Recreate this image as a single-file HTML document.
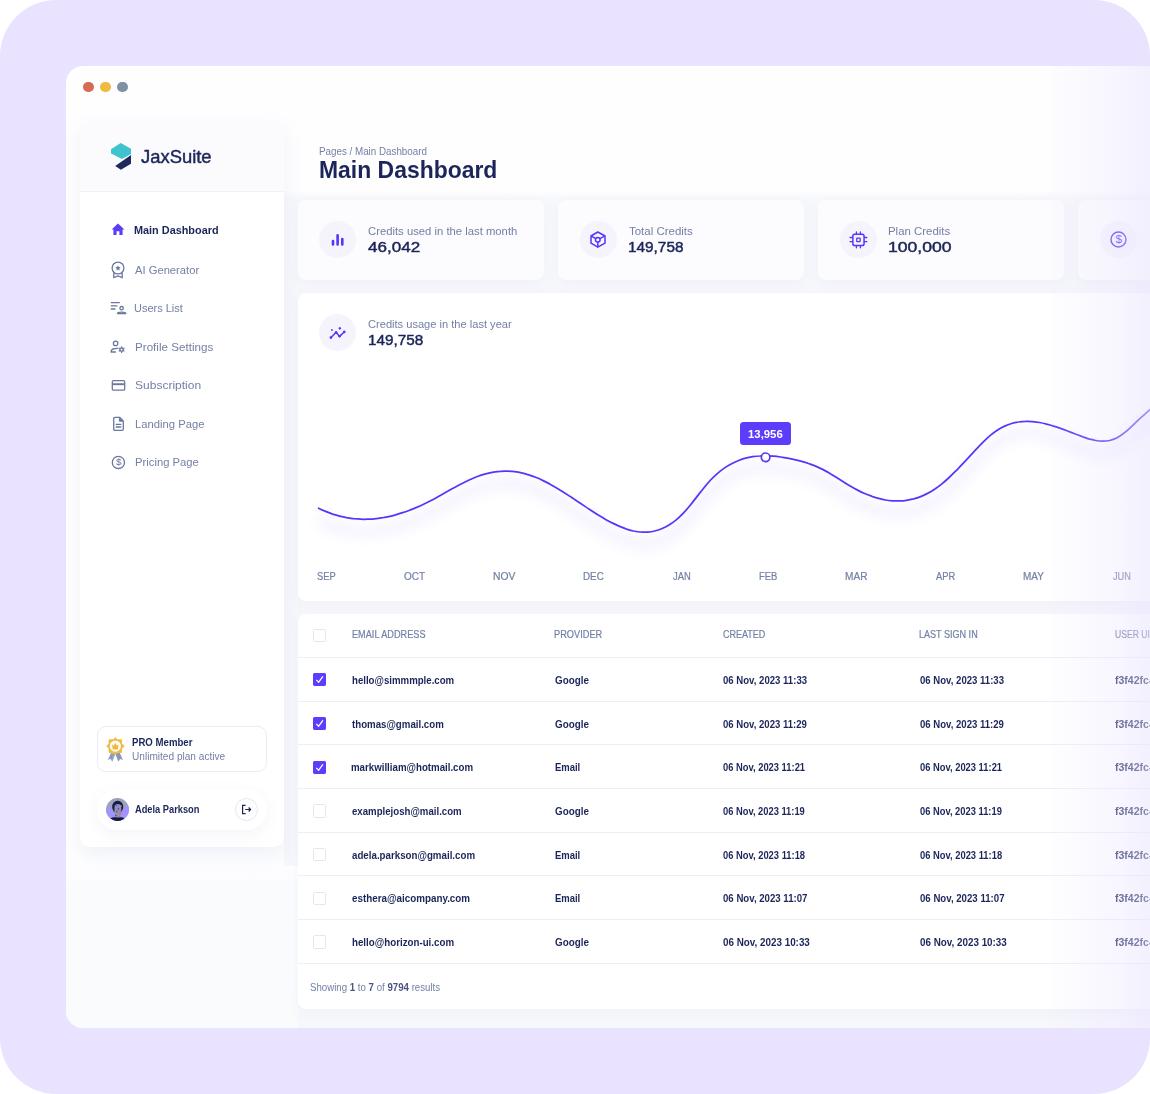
<!DOCTYPE html>
<html lang="en">
<head>
<meta charset="utf-8">
<title>JaxSuite - Main Dashboard</title>
<style>
*{box-sizing:border-box;margin:0;padding:0}
html,body{width:1150px;height:1094px;overflow:hidden;background:#fff}
body{font-family:"Liberation Sans",sans-serif;color:#1b2559;position:relative}
.abs{position:absolute}
.t{position:absolute;white-space:nowrap;line-height:1}
.b{font-weight:700}
.sb{font-weight:400;-webkit-text-stroke:.45px currentColor}
.g{color:#7480a5}
.n{color:#1b2559}
#bg{left:0;top:0;width:1150px;height:1094px;background:#e9e3ff;border-radius:56px}
#win{left:66px;top:66px;width:1100px;height:962px;background:#fefeff;border-radius:17px 0 0 17px;overflow:hidden}
#wintop{left:218px;top:124px;width:900px;height:840px;background:linear-gradient(#fefeff,#f7f8fc 9px)}
#winlow{left:0;top:800px;width:232px;height:162px;background:linear-gradient(#fefeff,#fafbfd 20px)}
.dot{position:absolute;width:10.4px;height:10.4px;border-radius:50%;top:81.7px}
#side{left:80px;top:121px;width:204px;height:726px;background:#fff;border-radius:10px;box-shadow:0 8px 20px rgba(112,126,174,.10)}
#sidehead{left:0;top:0;width:204px;height:71px;background:#fbfbfe;border-radius:10px 10px 0 0;border-bottom:1px solid #f1f2f8}
.card{position:absolute;background:#fcfcfe;border-radius:8px;box-shadow:0 4px 14px rgba(112,126,174,.055)}
.ic{position:absolute;width:37.3px;height:37.3px;border-radius:50%;background:#f5f4fd}
.row{position:absolute;left:298px;width:860px;height:1px;background:#edeff7}
.cb{position:absolute;left:313.2px;width:13.2px;height:13.2px;border:1px solid #e4e7f1;border-radius:1.5px;background:#fff}
.cb.on{background:#5d3cfd;border-color:#5d3cfd;border-radius:1.2px}
.mo{-webkit-text-stroke:.2px currentColor}
.th{-webkit-text-stroke:.2px currentColor}
.td{font-size:10.2px}
.n2{color:#4a5580;font-weight:700}
#t_h5{left:1115px;top:630px;font-size:10px;transform:scaleX(.86);transform-origin:0 50%}
#t_u0{left:1115px;top:676px;font-size:10.1px;transform:scaleX(1.04);transform-origin:0 50%}
#t_u1{left:1115px;top:720px;font-size:10.1px;transform:scaleX(1.04);transform-origin:0 50%}
#t_u2{left:1115px;top:763px;font-size:10.1px;transform:scaleX(1.04);transform-origin:0 50%}
#t_u3{left:1115px;top:807px;font-size:10.1px;transform:scaleX(1.04);transform-origin:0 50%}
#t_u4{left:1115px;top:851px;font-size:10.1px;transform:scaleX(1.04);transform-origin:0 50%}
#t_u5{left:1115px;top:894px;font-size:10.1px;transform:scaleX(1.04);transform-origin:0 50%}
#t_u6{left:1115px;top:938px;font-size:10.1px;transform:scaleX(1.04);transform-origin:0 50%}
/*TUNED*/
#t_logo{left:140.50px;top:149.00px;font-size:17.90px;transform:scaleX(1.0289);transform-origin:0 50%}
#t_n1{left:133.50px;top:225.00px;font-size:11.40px;transform:scaleX(0.9543);transform-origin:0 50%}
#t_n2{left:134.50px;top:265.00px;font-size:11.30px;transform:scaleX(0.9916);transform-origin:0 50%}
#t_n3{left:133.50px;top:303.00px;font-size:11.30px;transform:scaleX(0.9703);transform-origin:0 50%}
#t_n4{left:134.50px;top:342.00px;font-size:11.30px;transform:scaleX(1.0303);transform-origin:0 50%}
#t_n5{left:134.50px;top:380.00px;font-size:11.30px;transform:scaleX(1.0642);transform-origin:0 50%}
#t_n6{left:134.50px;top:419.00px;font-size:11.30px;transform:scaleX(0.9961);transform-origin:0 50%}
#t_n7{left:134.50px;top:457.00px;font-size:11.30px;transform:scaleX(0.9968);transform-origin:0 50%}
#t_pro{left:131.50px;top:738.00px;font-size:10.10px;transform:scaleX(0.9535);transform-origin:0 50%}
#t_unl{left:131.50px;top:752.00px;font-size:10.10px;transform:scaleX(1.0005);transform-origin:0 50%}
#t_user{left:134.50px;top:805.00px;font-size:10.30px;transform:scaleX(0.9009);transform-origin:0 50%}
#t_bc{left:318.50px;top:147.00px;font-size:10.30px;transform:scaleX(0.9522);transform-origin:0 50%}
#t_title{left:318.50px;top:158.00px;font-size:24.00px;transform:scaleX(0.9553);transform-origin:0 50%}
#t_l1{left:367.50px;top:226.00px;font-size:10.90px;transform:scaleX(1.0362);transform-origin:0 50%}
#t_v1{left:367.50px;top:240.00px;font-size:14.50px;transform:scaleX(1.1756);transform-origin:0 50%}
#t_l2{left:628.50px;top:226.00px;font-size:10.90px;transform:scaleX(1.0540);transform-origin:0 50%}
#t_v2{left:627.50px;top:240.00px;font-size:14.50px;transform:scaleX(1.0582);transform-origin:0 50%}
#t_l3{left:887.50px;top:226.00px;font-size:10.90px;transform:scaleX(1.0483);transform-origin:0 50%}
#t_v3{left:887.50px;top:240.00px;font-size:14.50px;transform:scaleX(1.2140);transform-origin:0 50%}
#t_l4{left:367.50px;top:319.00px;font-size:10.90px;transform:scaleX(1.0187);transform-origin:0 50%}
#t_v4{left:367.50px;top:333.00px;font-size:14.50px;transform:scaleX(1.0521);transform-origin:0 50%}
#t_tip{left:747.50px;top:429.00px;font-size:11.00px;transform:scaleX(1.0332);transform-origin:0 50%}
#t_m1{left:316.50px;top:572.00px;font-size:10.00px;transform:scaleX(0.9322);transform-origin:0 50%}
#t_m2{left:403.50px;top:572.00px;font-size:10.00px;transform:scaleX(0.9966);transform-origin:0 50%}
#t_m3{left:492.50px;top:572.00px;font-size:10.00px;transform:scaleX(1.0322);transform-origin:0 50%}
#t_m4{left:583.00px;top:572.00px;font-size:10.00px;transform:scaleX(0.9813);transform-origin:0 50%}
#t_m5{left:672.50px;top:572.00px;font-size:10.00px;transform:scaleX(0.9376);transform-origin:0 50%}
#t_m6{left:758.50px;top:572.00px;font-size:10.00px;transform:scaleX(0.9452);transform-origin:0 50%}
#t_m7{left:844.50px;top:572.00px;font-size:10.00px;transform:scaleX(1.0100);transform-origin:0 50%}
#t_m8{left:935.50px;top:572.00px;font-size:10.00px;transform:scaleX(0.9349);transform-origin:0 50%}
#t_m9{left:1022.50px;top:572.00px;font-size:10.00px;transform:scaleX(0.9974);transform-origin:0 50%}
#t_m10{left:1112.50px;top:572.00px;font-size:10.00px;transform:scaleX(0.9200);transform-origin:0 50%}
#t_h1{left:351.50px;top:630.00px;font-size:10.00px;transform:scaleX(0.9162);transform-origin:0 50%}
#t_h2{left:554.00px;top:630.00px;font-size:10.00px;transform:scaleX(0.9237);transform-origin:0 50%}
#t_h3{left:722.50px;top:630.00px;font-size:10.00px;transform:scaleX(0.9008);transform-origin:0 50%}
#t_h4{left:918.50px;top:630.00px;font-size:10.00px;transform:scaleX(0.9049);transform-origin:0 50%}
#t_show{left:309.50px;top:983.00px;font-size:10.00px;transform:scaleX(0.9670);transform-origin:0 50%}
#t_e0{left:351.50px;top:676.00px;font-size:10.10px;transform:scaleX(0.9559);transform-origin:0 50%}
#t_p0{left:554.50px;top:676.00px;font-size:10.10px;transform:scaleX(0.9776);transform-origin:0 50%}
#t_c0{left:722.50px;top:676.00px;font-size:10.10px;transform:scaleX(0.9502);transform-origin:0 50%}
#t_s0{left:919.50px;top:676.00px;font-size:10.10px;transform:scaleX(0.9498);transform-origin:0 50%}
#t_e1{left:351.50px;top:720.00px;font-size:10.10px;transform:scaleX(0.9591);transform-origin:0 50%}
#t_p1{left:554.50px;top:720.00px;font-size:10.10px;transform:scaleX(0.9776);transform-origin:0 50%}
#t_c1{left:722.50px;top:720.00px;font-size:10.10px;transform:scaleX(0.9488);transform-origin:0 50%}
#t_s1{left:919.50px;top:720.00px;font-size:10.10px;transform:scaleX(0.9487);transform-origin:0 50%}
#t_e2{left:350.50px;top:763.00px;font-size:10.10px;transform:scaleX(0.9605);transform-origin:0 50%}
#t_p2{left:554.50px;top:763.00px;font-size:10.10px;transform:scaleX(0.9363);transform-origin:0 50%}
#t_c2{left:722.50px;top:763.00px;font-size:10.10px;transform:scaleX(0.9272);transform-origin:0 50%}
#t_s2{left:919.50px;top:763.00px;font-size:10.10px;transform:scaleX(0.9272);transform-origin:0 50%}
#t_e3{left:351.50px;top:807.00px;font-size:10.10px;transform:scaleX(0.9555);transform-origin:0 50%}
#t_p3{left:554.50px;top:807.00px;font-size:10.10px;transform:scaleX(0.9776);transform-origin:0 50%}
#t_c3{left:722.50px;top:807.00px;font-size:10.10px;transform:scaleX(0.9244);transform-origin:0 50%}
#t_s3{left:919.50px;top:807.00px;font-size:10.10px;transform:scaleX(0.9248);transform-origin:0 50%}
#t_e4{left:351.50px;top:851.00px;font-size:10.10px;transform:scaleX(0.9639);transform-origin:0 50%}
#t_p4{left:554.50px;top:851.00px;font-size:10.10px;transform:scaleX(0.9363);transform-origin:0 50%}
#t_c4{left:722.50px;top:851.00px;font-size:10.10px;transform:scaleX(0.9275);transform-origin:0 50%}
#t_s4{left:919.50px;top:851.00px;font-size:10.10px;transform:scaleX(0.9282);transform-origin:0 50%}
#t_e5{left:351.50px;top:894.00px;font-size:10.10px;transform:scaleX(0.9734);transform-origin:0 50%}
#t_p5{left:554.50px;top:894.00px;font-size:10.10px;transform:scaleX(0.9363);transform-origin:0 50%}
#t_c5{left:722.50px;top:894.00px;font-size:10.10px;transform:scaleX(0.9547);transform-origin:0 50%}
#t_s5{left:919.50px;top:894.00px;font-size:10.10px;transform:scaleX(0.9551);transform-origin:0 50%}
#t_e6{left:351.50px;top:938.00px;font-size:10.10px;transform:scaleX(0.9652);transform-origin:0 50%}
#t_p6{left:554.50px;top:938.00px;font-size:10.10px;transform:scaleX(0.9776);transform-origin:0 50%}
#t_c6{left:722.50px;top:938.00px;font-size:10.10px;transform:scaleX(0.9753);transform-origin:0 50%}
#t_s6{left:919.50px;top:938.00px;font-size:10.10px;transform:scaleX(0.9750);transform-origin:0 50%}
/*ENDTUNED*/
</style>
</head>
<body>
<div id="bg" class="abs"></div>
<div id="win" class="abs"><div id="wintop" class="abs"></div><div id="winlow" class="abs"></div></div>
<div class="dot" style="left:83.2px;background:#d96a52"></div>
<div class="dot" style="left:100.3px;background:#f0b940"></div>
<div class="dot" style="left:117.4px;background:#8190a6"></div>

<!-- SIDEBAR -->
<div id="side" class="abs"><div id="sidehead" class="abs"></div></div>
<!-- logo -->
<svg class="abs" style="left:110px;top:142px" width="22" height="29" viewBox="0 0 22 29">
<path d="M10.7 1 L21 6.8 V11.9 L11.9 16.9 L1 11.4 V7.3 Z" fill="#3ec3cf"/>
<path d="M21 12.9 V21.7 L10.9 27.8 L5.2 23.9 Z" fill="#1f2a5c"/>
</svg>
<div id="t_logo" class="t sb n">JaxSuite</div>

<!-- nav -->
<svg class="abs" style="left:111px;top:223px" width="14" height="13" viewBox="0 0 14 13"><path d="M7 0.6 L0.6 6.4 H2.4 V12 H5.6 V8.2 H8.4 V12 H11.6 V6.4 H13.4 Z" fill="#5b3ef5"/></svg>
<div id="t_n1" class="t b n">Main Dashboard</div>

<svg class="abs" style="left:110px;top:260px" width="16" height="20" viewBox="0 0 16 20" fill="none" stroke="#6b789e" stroke-width="1.3"><circle cx="8" cy="8" r="5.9"/><path d="M3.8 12.6 V17.6 L8 15.9 L12.2 17.6 V12.6"/><path d="M8 5.2 L8.8 7 L10.7 7.2 L9.3 8.5 L9.7 10.4 L8 9.4 L6.3 10.4 L6.7 8.5 L5.3 7.2 L7.2 7 Z" fill="#6b789e" stroke="none"/></svg>
<div id="t_n2" class="t g">AI Generator</div>

<svg class="abs" style="left:110px;top:300px" width="17" height="16" viewBox="0 0 17 16" fill="none" stroke="#6b789e" stroke-width="1.3"><path d="M0.8 2.6 H9.8 M0.8 5.8 H7.4 M0.8 9 H5.4"/><circle cx="11.6" cy="8.2" r="1.7"/><path d="M7.4 13.6 C7.4 11.6 15.8 11.6 15.8 13.6 Z" stroke-linejoin="round"/></svg>
<div id="t_n3" class="t g">Users List</div>

<svg class="abs" style="left:110px;top:340px" width="17" height="14" viewBox="0 0 17 14" fill="none" stroke="#6b789e" stroke-width="1.3"><circle cx="5.6" cy="3.4" r="2.2"/><path d="M1 12 C1 8.6 4 8.4 7.6 8.4 M1 12 H5.4" stroke-linecap="round"/><circle cx="11.6" cy="9.6" r="1.7"/><path d="M11.6 6.8 V7.9 M11.6 11.3 V12.4 M9.2 8.2 L10.1 8.75 M13.1 10.45 L14 11 M9.2 11 L10.1 10.45 M13.1 8.75 L14 8.2" stroke-linecap="round"/></svg>
<div id="t_n4" class="t g">Profile Settings</div>

<svg class="abs" style="left:111px;top:379px" width="15" height="13" viewBox="0 0 15 13" fill="none" stroke="#6b789e" stroke-width="1.3"><rect x="1.3" y="1.6" width="12.4" height="9.6" rx="1.3"/><path d="M1.3 5.2 H13.7" stroke-width="1.9"/></svg>
<div id="t_n5" class="t g">Subscription</div>

<svg class="abs" style="left:112px;top:416px" width="13" height="16" viewBox="0 0 13 16" fill="none" stroke="#6b789e" stroke-width="1.3"><path d="M1.7 2.6 Q1.7 1.3 3 1.3 H7.6 L11.3 5 V13 Q11.3 14.3 10 14.3 H3 Q1.7 14.3 1.7 13 Z" stroke-linejoin="round"/><path d="M7.4 1.6 V5.2 H11" fill="#6b789e" stroke-width="1"/><path d="M4.2 8.4 H8.8 M4.2 11 H8.8" stroke-linecap="round"/></svg>
<div id="t_n6" class="t g">Landing Page</div>

<svg class="abs" style="left:111px;top:455px" width="15" height="15" viewBox="0 0 15 15" fill="none" stroke="#6b789e" stroke-width="1.3"><circle cx="7.4" cy="7.4" r="6.1"/></svg>
<div class="t g" style="left:115.9px;top:457.3px;font-size:9.6px;color:#6b789e;font-weight:400">$</div>
<div id="t_n7" class="t g">Pricing Page</div>

<!-- pro card -->
<div class="abs" style="left:97px;top:726px;width:170px;height:46px;border:1px solid #e9ecf6;border-radius:9px;background:#fff"></div>
<svg class="abs" style="left:106.4px;top:736.8px" width="19.4" height="26.2" viewBox="0 0 20 27">
<path d="M5.4 15.6 L1.8 23.6 L4.7 22.7 L6.5 25.4 L9.7 17.6 Z" fill="#98a2be"/><path d="M14 15.6 L17.4 23.6 L14.6 22.7 L12.7 25.4 L9.7 17.6 Z" fill="#8d98b6"/>
<circle cx="5.4" cy="20.6" r=".9" fill="#8f7df0"/><circle cx="13.6" cy="20.8" r=".9" fill="#8f7df0"/><circle cx="6.2" cy="22.2" r=".6" fill="#35c6c6"/><circle cx="13" cy="22.6" r=".6" fill="#35c6c6"/>
<path d="M9.7 .8 L12 2.9 H16.1 V7 L18.9 9.4 L16.1 11.9 V16 H12 L9.7 18.1 L7.2 16 H3.1 V11.9 L.8 9.4 L3.1 7 V2.9 H7.2 Z" fill="#eeb93f" stroke="#eeb93f" stroke-width=".8" stroke-linejoin="round"/>
<circle cx="9.6" cy="9.4" r="5.8" fill="#fffdf7"/>
<path d="M6.3 7.5 L8 8.9 L9.6 5.9 L11.2 8.9 L12.9 7.5 L12.3 12.9 H6.9 Z" fill="#eeb93f"/>
</svg>
<div id="t_pro" class="t b n">PRO Member</div>
<div id="t_unl" class="t g">Unlimited plan active</div>

<!-- user pill -->
<div class="abs" style="left:97px;top:789px;width:170px;height:41px;border-radius:21px;background:#fff;box-shadow:0 5px 16px rgba(112,126,174,.08)"></div>
<svg class="abs" style="left:106px;top:798px" width="23" height="23" viewBox="0 0 23 23">
<defs><clipPath id="av"><circle cx="11.5" cy="11.5" r="11.45"/></clipPath></defs>
<g clip-path="url(#av)"><rect width="23" height="23" fill="#9ca2ba"/>
<path d="M0 9.6 L5 8.8 L9.4 19.6 L0 23 Z" fill="#a394fb"/><path d="M16.2 11 L23 6.6 V23 H13.6 Z" fill="#a291ff"/>
<ellipse cx="11.7" cy="9" rx="5.5" ry="6.2" fill="#141a4a"/>
<path d="M8.6 8.2 C8.8 5.6 14.8 5.2 15.2 8.4 L15.4 13 C15.2 17 13.8 19.6 12.2 19.6 C10.2 19.6 8.6 16.6 8.4 13 Z" fill="#8f95af"/>
<path d="M4.2 21 C6.4 18.9 9 19.2 11.6 19.6 C14.4 19.2 16.6 18.9 18.8 21 L18 23 H5 Z" fill="#151b4b"/>
<circle cx="10.4" cy="7.4" r=".7" fill="#5a3cff"/><ellipse cx="12.4" cy="10.8" rx=".7" ry="1.1" fill="#5a3cff"/><circle cx="10.8" cy="13.6" r="1" fill="#6a4cff"/><circle cx="9.8" cy="17.6" r=".9" fill="#5a3cff"/>
<ellipse cx="15.3" cy="8" rx=".55" ry="1.1" fill="#e4633f"/><ellipse cx="14.4" cy="12.9" rx=".55" ry="1" fill="#e4633f"/><ellipse cx="14.1" cy="15.7" rx=".7" ry=".9" fill="#e4633f"/><ellipse cx="13.6" cy="18.4" rx=".5" ry="1" fill="#e4633f"/>
</g></svg>
<div id="t_user" class="t b n">Adela Parkson</div>
<div class="abs" style="left:235px;top:798px;width:23px;height:23px;border-radius:50%;border:1px solid #e3e7f3;background:#fff"></div>
<svg class="abs" style="left:241px;top:804px" width="11" height="11" viewBox="0 0 11 11" fill="none" stroke="#1b2559" stroke-width="1.2"><path d="M4.6 1.4 H1.6 V9.6 H4.6"/><path d="M4.2 5.5 H9.6 M7.6 3.5 L9.6 5.5 L7.6 7.5" stroke-linejoin="round"/></svg>

<!-- MAIN -->

<div id="t_bc" class="t g">Pages / Main Dashboard</div>
<div id="t_title" class="t b n">Main Dashboard</div>

<!-- stat cards -->
<div class="card" style="left:298px;top:200px;width:246px;height:80px"></div>
<div class="card" style="left:558px;top:200px;width:246px;height:80px"></div>
<div class="card" style="left:818px;top:200px;width:246px;height:80px"></div>
<div class="card" style="left:1078px;top:200px;width:246px;height:80px"></div>
<div class="ic" style="left:318.9px;top:220.8px"></div>
<div class="ic" style="left:579.6px;top:220.8px"></div>
<div class="ic" style="left:839.8px;top:220.8px"></div>
<div class="ic" style="left:1100.1px;top:220.8px"></div>
<svg class="abs" style="left:331px;top:233px" width="14" height="14" viewBox="0 0 14 14" fill="none" stroke="#5634fb" stroke-width="2.6" stroke-linecap="round"><path d="M2 8 V11.5 M6.6 2.3 V11.5 M11.3 6 V11.5"/></svg>
<svg class="abs" style="left:589px;top:230px" width="19" height="20" viewBox="0 0 19 20" fill="none" stroke="#5634fb" stroke-width="1.5" stroke-linejoin="round"><path d="M8.8 2 L16 6 V13.2 L8.8 17.2 L2 13.2 V6 Z"/><circle cx="8.8" cy="9.7" r="2.3"/><path d="M8.8 12 V17 M6.8 8.6 L2.4 6.2 M10.8 8.6 L15.6 6.2"/></svg>
<svg class="abs" style="left:849px;top:230px" width="19" height="20" viewBox="0 0 19 20" fill="none" stroke="#5634fb" stroke-width="1.5"><rect x="3.85" y="4.25" width="11.2" height="11.3" rx="1.8"/><rect x="7.75" y="8.2" width="3.4" height="3.4" rx=".4" stroke-width="1.3"/><path d="M7.4 2 V3.6 M11.4 2 V3.6 M7.4 16.2 V17.8 M11.4 16.2 V17.8 M1.1 7.5 H3.2 M1.1 11.7 H3.2 M15.7 7.5 H17.8 M15.7 11.7 H17.8" stroke-linecap="round" stroke-width="1.3"/></svg>
<svg class="abs" style="left:1109.3px;top:230.3px" width="19" height="19" viewBox="0 0 19 19" fill="none" stroke="#5634fb" stroke-width="1.4"><circle cx="9.5" cy="9.5" r="7.5"/></svg>
<div class="t" style="left:1115.5px;top:233.8px;font-size:11.8px;color:#5634fb;font-weight:400">$</div>

<div id="t_l1" class="t g">Credits used in the last month</div>
<div id="t_v1" class="t sb n">46,042</div>
<div id="t_l2" class="t g">Total Credits</div>
<div id="t_v2" class="t sb n">149,758</div>
<div id="t_l3" class="t g">Plan Credits</div>
<div id="t_v3" class="t sb n">100,000</div>

<!-- chart card -->
<div class="card" style="left:298px;top:292.5px;width:900px;height:308.5px;background:#fff"></div>
<div class="ic" style="left:319px;top:313.9px"></div>
<svg class="abs" style="left:329px;top:324px" width="18" height="17" viewBox="0 0 18 17" fill="none" stroke="#5634fb" stroke-width="1.5" stroke-linecap="round" stroke-linejoin="round"><path d="M1.8 13.7 L7.1 8.2 L10.6 12.4 L15.4 7.8"/><g fill="#5634fb" stroke="none"><circle cx="1.9" cy="13.6" r="1.3"/><circle cx="7.1" cy="8.3" r="1.2"/><circle cx="10.6" cy="12.3" r="1.2"/><circle cx="15.3" cy="7.9" r="1.3"/><path d="M10.8 2.7 L12.3 4.3 L10.8 5.9 L9.3 4.3 Z"/><circle cx="2.9" cy="6" r=".9"/></g></svg>
<div id="t_l4" class="t g">Credits usage in the last year</div>
<div id="t_v4" class="t sb n">149,758</div>

<svg class="abs" style="left:0;top:0" width="1150" height="1094" viewBox="0 0 1150 1094">
<defs><filter id="sh" x="-5%" y="-50%" width="110%" height="250%"><feGaussianBlur stdDeviation="7"/></filter></defs>
<path d="M318.6 508.2 C319.8 508.8 323.3 510.4 325.6 511.4 C327.9 512.4 330.3 513.3 332.6 514.1 C334.9 514.8 337.3 515.5 339.6 516.1 C341.9 516.7 344.3 517.2 346.6 517.7 C348.9 518.1 351.3 518.4 353.6 518.7 C355.9 518.9 358.3 519.1 360.6 519.2 C362.9 519.3 365.3 519.3 367.6 519.2 C369.9 519.1 372.3 519.0 374.6 518.8 C376.9 518.6 379.3 518.3 381.6 517.9 C383.9 517.5 386.3 517.1 388.6 516.6 C390.9 516.1 393.3 515.5 395.6 514.8 C397.9 514.2 400.3 513.5 402.6 512.7 C404.9 512.0 407.3 511.1 409.6 510.2 C411.9 509.3 414.3 508.4 416.6 507.4 C418.9 506.4 421.3 505.3 423.6 504.2 C425.9 503.1 428.3 501.9 430.6 500.7 C432.9 499.5 435.3 498.2 437.6 496.9 C439.9 495.6 442.3 494.3 444.6 493.0 C446.9 491.7 449.3 490.4 451.6 489.1 C453.9 487.8 456.3 486.5 458.6 485.3 C460.9 484.1 463.3 482.9 465.6 481.7 C467.9 480.6 470.3 479.5 472.6 478.5 C474.9 477.5 477.3 476.6 479.6 475.7 C481.9 474.9 484.3 474.2 486.6 473.6 C488.9 473.0 491.3 472.5 493.6 472.1 C495.9 471.7 498.3 471.4 500.6 471.3 C502.9 471.1 505.3 471.1 507.6 471.2 C509.9 471.3 512.3 471.4 514.6 471.7 C516.9 472.0 519.3 472.4 521.6 472.9 C523.9 473.5 526.3 474.1 528.6 474.8 C530.9 475.5 533.3 476.3 535.6 477.3 C537.9 478.2 540.3 479.2 542.6 480.4 C544.9 481.5 547.3 482.7 549.6 483.9 C551.9 485.2 554.3 486.6 556.6 487.9 C558.9 489.3 561.3 490.8 563.6 492.3 C565.9 493.7 568.3 495.3 570.6 496.8 C572.9 498.3 575.3 499.9 577.6 501.5 C579.9 503.0 582.3 504.6 584.6 506.1 C586.9 507.7 589.3 509.2 591.6 510.7 C593.9 512.3 596.3 513.8 598.6 515.2 C600.9 516.6 603.3 518.0 605.6 519.4 C607.9 520.7 610.3 522.0 612.6 523.1 C614.9 524.3 617.3 525.4 619.6 526.4 C621.9 527.4 624.3 528.3 626.6 529.1 C628.9 529.8 631.3 530.5 633.6 531.0 C635.9 531.4 638.3 531.8 640.6 532.0 C642.9 532.2 645.3 532.2 647.6 532.1 C649.9 531.9 652.3 531.6 654.6 531.0 C656.9 530.5 659.3 529.8 661.6 528.8 C663.9 527.8 666.3 526.7 668.6 525.3 C670.9 523.9 673.3 522.2 675.6 520.4 C677.9 518.5 680.3 516.3 682.6 513.9 C684.9 511.6 687.3 508.8 689.6 506.0 C691.9 503.2 694.3 500.1 696.6 497.1 C698.9 494.2 701.3 491.0 703.6 488.2 C705.9 485.3 708.3 482.5 710.6 480.0 C712.9 477.5 715.3 475.3 717.6 473.3 C719.9 471.2 722.3 469.5 724.6 467.9 C726.9 466.3 729.3 464.9 731.6 463.7 C733.9 462.4 736.3 461.4 738.6 460.5 C740.9 459.6 743.3 458.8 745.6 458.2 C747.9 457.6 750.3 457.1 752.6 456.7 C754.9 456.4 757.3 456.1 759.6 456.0 C761.9 455.8 764.3 455.8 766.6 455.8 C768.9 455.8 771.3 456.0 773.6 456.2 C775.9 456.4 778.3 456.7 780.6 457.0 C782.9 457.4 785.3 457.8 787.6 458.2 C789.9 458.7 792.3 459.2 794.6 459.7 C796.9 460.2 799.3 460.8 801.6 461.4 C803.9 462.0 806.3 462.7 808.6 463.5 C810.9 464.3 813.3 465.1 815.6 466.1 C817.9 467.1 820.3 468.2 822.6 469.4 C824.9 470.6 827.3 471.9 829.6 473.3 C831.9 474.7 834.3 476.1 836.6 477.6 C838.9 479.1 841.3 480.6 843.6 482.0 C845.9 483.5 848.3 485.0 850.6 486.3 C852.9 487.7 855.3 489.0 857.6 490.1 C859.9 491.3 862.3 492.5 864.6 493.5 C866.9 494.5 869.3 495.4 871.6 496.2 C873.9 497.1 876.3 497.8 878.6 498.4 C880.9 499.0 883.3 499.6 885.6 500.0 C887.9 500.4 890.3 500.6 892.6 500.8 C894.9 501.0 897.3 501.0 899.6 500.9 C901.9 500.9 904.3 500.7 906.6 500.3 C908.9 500.0 911.3 499.5 913.6 498.9 C915.9 498.2 918.3 497.5 920.6 496.6 C922.9 495.7 925.3 494.6 927.6 493.4 C929.9 492.2 932.3 490.8 934.6 489.2 C936.9 487.7 939.3 486.0 941.6 484.1 C943.9 482.2 946.3 480.1 948.6 478.0 C950.9 475.8 953.3 473.5 955.6 471.2 C957.9 468.8 960.3 466.4 962.6 463.9 C964.9 461.4 967.3 458.9 969.6 456.3 C971.9 453.8 974.3 451.3 976.6 448.8 C978.9 446.3 981.3 443.9 983.6 441.6 C985.9 439.4 988.3 437.2 990.6 435.2 C992.9 433.3 995.3 431.5 997.6 430.0 C999.9 428.5 1002.3 427.2 1004.6 426.1 C1006.9 425.1 1009.3 424.2 1011.6 423.5 C1013.9 422.8 1016.3 422.3 1018.6 422.0 C1020.9 421.6 1023.3 421.4 1025.6 421.4 C1027.9 421.3 1030.3 421.4 1032.6 421.6 C1034.9 421.8 1037.3 422.1 1039.6 422.5 C1041.9 422.9 1044.3 423.5 1046.6 424.1 C1048.9 424.6 1051.3 425.3 1053.6 426.1 C1055.9 426.8 1058.3 427.6 1060.6 428.4 C1062.9 429.2 1065.3 430.1 1067.6 431.0 C1069.9 431.9 1072.3 432.8 1074.6 433.7 C1076.9 434.6 1079.3 435.5 1081.6 436.4 C1083.9 437.2 1086.3 438.1 1088.6 438.8 C1090.9 439.4 1093.3 440.1 1095.6 440.5 C1097.9 440.9 1100.3 441.2 1102.6 441.2 C1104.9 441.2 1107.3 441.0 1109.6 440.5 C1111.9 439.9 1114.3 439.1 1116.6 438.0 C1118.9 436.8 1121.3 435.2 1123.6 433.4 C1125.9 431.7 1128.3 429.5 1130.6 427.4 C1132.9 425.2 1135.3 422.9 1137.6 420.7 C1139.9 418.5 1142.3 416.3 1144.6 414.3 C1146.9 412.2 1149.3 410.3 1151.6 408.3 C1153.9 406.4 1157.4 403.7 1158.6 402.8" transform="translate(0,12)" fill="none" stroke="#6a4cff" stroke-width="9" opacity=".085" filter="url(#sh)"/>
<path d="M318.6 508.2 C319.8 508.8 323.3 510.4 325.6 511.4 C327.9 512.4 330.3 513.3 332.6 514.1 C334.9 514.8 337.3 515.5 339.6 516.1 C341.9 516.7 344.3 517.2 346.6 517.7 C348.9 518.1 351.3 518.4 353.6 518.7 C355.9 518.9 358.3 519.1 360.6 519.2 C362.9 519.3 365.3 519.3 367.6 519.2 C369.9 519.1 372.3 519.0 374.6 518.8 C376.9 518.6 379.3 518.3 381.6 517.9 C383.9 517.5 386.3 517.1 388.6 516.6 C390.9 516.1 393.3 515.5 395.6 514.8 C397.9 514.2 400.3 513.5 402.6 512.7 C404.9 512.0 407.3 511.1 409.6 510.2 C411.9 509.3 414.3 508.4 416.6 507.4 C418.9 506.4 421.3 505.3 423.6 504.2 C425.9 503.1 428.3 501.9 430.6 500.7 C432.9 499.5 435.3 498.2 437.6 496.9 C439.9 495.6 442.3 494.3 444.6 493.0 C446.9 491.7 449.3 490.4 451.6 489.1 C453.9 487.8 456.3 486.5 458.6 485.3 C460.9 484.1 463.3 482.9 465.6 481.7 C467.9 480.6 470.3 479.5 472.6 478.5 C474.9 477.5 477.3 476.6 479.6 475.7 C481.9 474.9 484.3 474.2 486.6 473.6 C488.9 473.0 491.3 472.5 493.6 472.1 C495.9 471.7 498.3 471.4 500.6 471.3 C502.9 471.1 505.3 471.1 507.6 471.2 C509.9 471.3 512.3 471.4 514.6 471.7 C516.9 472.0 519.3 472.4 521.6 472.9 C523.9 473.5 526.3 474.1 528.6 474.8 C530.9 475.5 533.3 476.3 535.6 477.3 C537.9 478.2 540.3 479.2 542.6 480.4 C544.9 481.5 547.3 482.7 549.6 483.9 C551.9 485.2 554.3 486.6 556.6 487.9 C558.9 489.3 561.3 490.8 563.6 492.3 C565.9 493.7 568.3 495.3 570.6 496.8 C572.9 498.3 575.3 499.9 577.6 501.5 C579.9 503.0 582.3 504.6 584.6 506.1 C586.9 507.7 589.3 509.2 591.6 510.7 C593.9 512.3 596.3 513.8 598.6 515.2 C600.9 516.6 603.3 518.0 605.6 519.4 C607.9 520.7 610.3 522.0 612.6 523.1 C614.9 524.3 617.3 525.4 619.6 526.4 C621.9 527.4 624.3 528.3 626.6 529.1 C628.9 529.8 631.3 530.5 633.6 531.0 C635.9 531.4 638.3 531.8 640.6 532.0 C642.9 532.2 645.3 532.2 647.6 532.1 C649.9 531.9 652.3 531.6 654.6 531.0 C656.9 530.5 659.3 529.8 661.6 528.8 C663.9 527.8 666.3 526.7 668.6 525.3 C670.9 523.9 673.3 522.2 675.6 520.4 C677.9 518.5 680.3 516.3 682.6 513.9 C684.9 511.6 687.3 508.8 689.6 506.0 C691.9 503.2 694.3 500.1 696.6 497.1 C698.9 494.2 701.3 491.0 703.6 488.2 C705.9 485.3 708.3 482.5 710.6 480.0 C712.9 477.5 715.3 475.3 717.6 473.3 C719.9 471.2 722.3 469.5 724.6 467.9 C726.9 466.3 729.3 464.9 731.6 463.7 C733.9 462.4 736.3 461.4 738.6 460.5 C740.9 459.6 743.3 458.8 745.6 458.2 C747.9 457.6 750.3 457.1 752.6 456.7 C754.9 456.4 757.3 456.1 759.6 456.0 C761.9 455.8 764.3 455.8 766.6 455.8 C768.9 455.8 771.3 456.0 773.6 456.2 C775.9 456.4 778.3 456.7 780.6 457.0 C782.9 457.4 785.3 457.8 787.6 458.2 C789.9 458.7 792.3 459.2 794.6 459.7 C796.9 460.2 799.3 460.8 801.6 461.4 C803.9 462.0 806.3 462.7 808.6 463.5 C810.9 464.3 813.3 465.1 815.6 466.1 C817.9 467.1 820.3 468.2 822.6 469.4 C824.9 470.6 827.3 471.9 829.6 473.3 C831.9 474.7 834.3 476.1 836.6 477.6 C838.9 479.1 841.3 480.6 843.6 482.0 C845.9 483.5 848.3 485.0 850.6 486.3 C852.9 487.7 855.3 489.0 857.6 490.1 C859.9 491.3 862.3 492.5 864.6 493.5 C866.9 494.5 869.3 495.4 871.6 496.2 C873.9 497.1 876.3 497.8 878.6 498.4 C880.9 499.0 883.3 499.6 885.6 500.0 C887.9 500.4 890.3 500.6 892.6 500.8 C894.9 501.0 897.3 501.0 899.6 500.9 C901.9 500.9 904.3 500.7 906.6 500.3 C908.9 500.0 911.3 499.5 913.6 498.9 C915.9 498.2 918.3 497.5 920.6 496.6 C922.9 495.7 925.3 494.6 927.6 493.4 C929.9 492.2 932.3 490.8 934.6 489.2 C936.9 487.7 939.3 486.0 941.6 484.1 C943.9 482.2 946.3 480.1 948.6 478.0 C950.9 475.8 953.3 473.5 955.6 471.2 C957.9 468.8 960.3 466.4 962.6 463.9 C964.9 461.4 967.3 458.9 969.6 456.3 C971.9 453.8 974.3 451.3 976.6 448.8 C978.9 446.3 981.3 443.9 983.6 441.6 C985.9 439.4 988.3 437.2 990.6 435.2 C992.9 433.3 995.3 431.5 997.6 430.0 C999.9 428.5 1002.3 427.2 1004.6 426.1 C1006.9 425.1 1009.3 424.2 1011.6 423.5 C1013.9 422.8 1016.3 422.3 1018.6 422.0 C1020.9 421.6 1023.3 421.4 1025.6 421.4 C1027.9 421.3 1030.3 421.4 1032.6 421.6 C1034.9 421.8 1037.3 422.1 1039.6 422.5 C1041.9 422.9 1044.3 423.5 1046.6 424.1 C1048.9 424.6 1051.3 425.3 1053.6 426.1 C1055.9 426.8 1058.3 427.6 1060.6 428.4 C1062.9 429.2 1065.3 430.1 1067.6 431.0 C1069.9 431.9 1072.3 432.8 1074.6 433.7 C1076.9 434.6 1079.3 435.5 1081.6 436.4 C1083.9 437.2 1086.3 438.1 1088.6 438.8 C1090.9 439.4 1093.3 440.1 1095.6 440.5 C1097.9 440.9 1100.3 441.2 1102.6 441.2 C1104.9 441.2 1107.3 441.0 1109.6 440.5 C1111.9 439.9 1114.3 439.1 1116.6 438.0 C1118.9 436.8 1121.3 435.2 1123.6 433.4 C1125.9 431.7 1128.3 429.5 1130.6 427.4 C1132.9 425.2 1135.3 422.9 1137.6 420.7 C1139.9 418.5 1142.3 416.3 1144.6 414.3 C1146.9 412.2 1149.3 410.3 1151.6 408.3 C1153.9 406.4 1157.4 403.7 1158.6 402.8" fill="none" stroke="#5735fa" stroke-width="1.75" stroke-linecap="round"/>
<circle cx="765.6" cy="457.3" r="4.3" fill="#fff" stroke="#5735fa" stroke-width="1.7"/>
</svg>
<div class="abs" style="left:740.3px;top:422px;width:51.2px;height:23.2px;border-radius:3.5px;background:#5d3cfb"></div>
<div id="t_tip" class="t b" style="color:#fff">13,956</div>

<div id="t_m1" class="t g mo">SEP</div>
<div id="t_m2" class="t g mo">OCT</div>
<div id="t_m3" class="t g mo">NOV</div>
<div id="t_m4" class="t g mo">DEC</div>
<div id="t_m5" class="t g mo">JAN</div>
<div id="t_m6" class="t g mo">FEB</div>
<div id="t_m7" class="t g mo">MAR</div>
<div id="t_m8" class="t g mo">APR</div>
<div id="t_m9" class="t g mo">MAY</div>
<div id="t_m10" class="t g mo">JUN</div>

<!-- table card -->
<div class="card" style="left:298px;top:614.3px;width:900px;height:395.2px;background:#fff"></div>
<div class="cb" style="top:629px"></div>
<div id="t_h1" class="t g th">EMAIL ADDRESS</div>
<div id="t_h2" class="t g th">PROVIDER</div>
<div id="t_h3" class="t g th">CREATED</div>
<div id="t_h4" class="t g th">LAST SIGN IN</div>
<div id="t_h5" class="t g th">USER UID</div>
<div class="row" style="top:656.8px"></div>
<div class="cb on" style="top:673.3px"></div><svg class="abs" style="left:315px;top:675.4px" width="10" height="9" viewBox="0 0 10 9" fill="none" stroke="#fff" stroke-width="1.3"><path d="M1.3 4.9 L3.6 7.3 L7.9 1.3"/></svg>
<div id="t_e0" class="t b n td">hello@simmmple.com</div>
<div id="t_p0" class="t b n td">Google</div>
<div id="t_c0" class="t b n td">06 Nov, 2023 11:33</div>
<div id="t_s0" class="t b n td">06 Nov, 2023 11:33</div>
<div id="t_u0" class="t n td" style="font-weight:700;color:#27315f">f3f42fc-</div>
<div class="row" style="top:700.5px"></div>
<div class="cb on" style="top:717.0px"></div><svg class="abs" style="left:315px;top:719.1px" width="10" height="9" viewBox="0 0 10 9" fill="none" stroke="#fff" stroke-width="1.3"><path d="M1.3 4.9 L3.6 7.3 L7.9 1.3"/></svg>
<div id="t_e1" class="t b n td">thomas@gmail.com</div>
<div id="t_p1" class="t b n td">Google</div>
<div id="t_c1" class="t b n td">06 Nov, 2023 11:29</div>
<div id="t_s1" class="t b n td">06 Nov, 2023 11:29</div>
<div id="t_u1" class="t n td" style="font-weight:700;color:#27315f">f3f42fc-</div>
<div class="row" style="top:744.2px"></div>
<div class="cb on" style="top:760.7px"></div><svg class="abs" style="left:315px;top:762.8px" width="10" height="9" viewBox="0 0 10 9" fill="none" stroke="#fff" stroke-width="1.3"><path d="M1.3 4.9 L3.6 7.3 L7.9 1.3"/></svg>
<div id="t_e2" class="t b n td">markwilliam@hotmail.com</div>
<div id="t_p2" class="t b n td">Email</div>
<div id="t_c2" class="t b n td">06 Nov, 2023 11:21</div>
<div id="t_s2" class="t b n td">06 Nov, 2023 11:21</div>
<div id="t_u2" class="t n td" style="font-weight:700;color:#27315f">f3f42fc-</div>
<div class="row" style="top:787.9px"></div>
<div class="cb" style="top:804.4px"></div>
<div id="t_e3" class="t b n td">examplejosh@mail.com</div>
<div id="t_p3" class="t b n td">Google</div>
<div id="t_c3" class="t b n td">06 Nov, 2023 11:19</div>
<div id="t_s3" class="t b n td">06 Nov, 2023 11:19</div>
<div id="t_u3" class="t n td" style="font-weight:700;color:#27315f">f3f42fc-</div>
<div class="row" style="top:831.6px"></div>
<div class="cb" style="top:848.1px"></div>
<div id="t_e4" class="t b n td">adela.parkson@gmail.com</div>
<div id="t_p4" class="t b n td">Email</div>
<div id="t_c4" class="t b n td">06 Nov, 2023 11:18</div>
<div id="t_s4" class="t b n td">06 Nov, 2023 11:18</div>
<div id="t_u4" class="t n td" style="font-weight:700;color:#27315f">f3f42fc-</div>
<div class="row" style="top:875.2px"></div>
<div class="cb" style="top:891.7px"></div>
<div id="t_e5" class="t b n td">esthera@aicompany.com</div>
<div id="t_p5" class="t b n td">Email</div>
<div id="t_c5" class="t b n td">06 Nov, 2023 11:07</div>
<div id="t_s5" class="t b n td">06 Nov, 2023 11:07</div>
<div id="t_u5" class="t n td" style="font-weight:700;color:#27315f">f3f42fc-</div>
<div class="row" style="top:918.9px"></div>
<div class="cb" style="top:935.4px"></div>
<div id="t_e6" class="t b n td">hello@horizon-ui.com</div>
<div id="t_p6" class="t b n td">Google</div>
<div id="t_c6" class="t b n td">06 Nov, 2023 10:33</div>
<div id="t_s6" class="t b n td">06 Nov, 2023 10:33</div>
<div id="t_u6" class="t n td" style="font-weight:700;color:#27315f">f3f42fc-</div>
<div class="row" style="top:962.6px"></div>
<div id="t_show" class="t g">Showing <b class="n2">1</b> to <b class="n2">7</b> of <b class="n2">9794</b> results</div>



<!-- right fade -->
<div class="abs" style="left:1050px;top:66px;width:100px;height:962px;background:linear-gradient(90deg,rgba(233,227,255,.06),rgba(233,227,255,.28) 60%,rgba(233,227,255,.52))"></div>
</body>
</html>
